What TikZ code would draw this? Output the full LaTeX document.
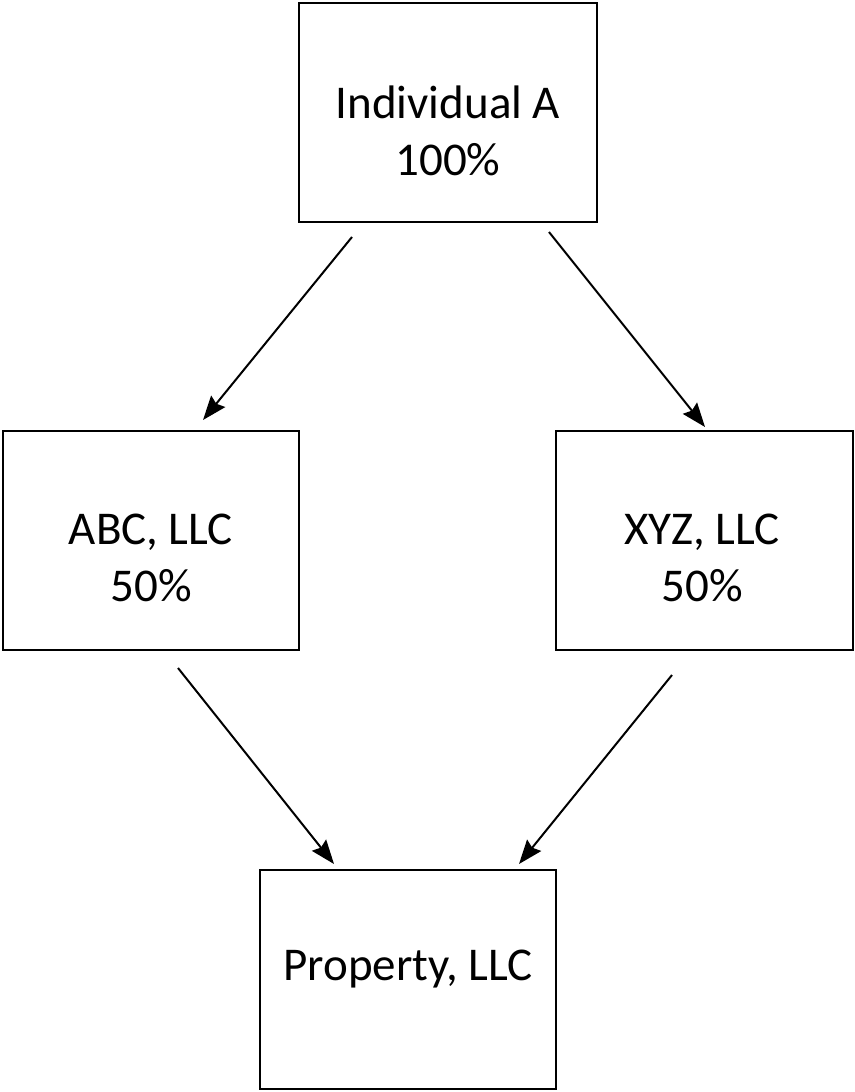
\documentclass[tikz,border=0pt]{standalone}
\usepackage{fontspec}
\setmainfont{Carlito}
\usetikzlibrary{arrows.meta}
\begin{document}
\begin{tikzpicture}[x=1pt,y=-1pt,
  box/.style={draw=black,line width=2pt,minimum width=#1,minimum height=219pt,inner sep=0pt,outer sep=0pt},
  lbl/.style={align=center,font=\fontsize{47}{57}\selectfont,inner sep=0pt},
  conn/.style={line width=2pt,-{Stealth[length=24pt,width=18pt,inset=3pt]}}]
\useasboundingbox (0,0) rectangle (854,1092);
\node[box=298pt] (ind) at (448,112.5) {};
\node[box=296pt] (abc) at (151,540) {};
\node[box=297pt] (xyz) at (704.5,540) {};
\node[box=296pt] (prop) at (408,979.5) {};
\node[lbl] (tind) at (448,131) {Individual A\\100\%};
\node[lbl] (tabc) at (151,558) {ABC, LLC\\50\%};
\node[lbl] (txyz) at (702,558) {XYZ, LLC\\50\%};
\node[lbl] (tprop) at (408,969) {Property, LLC};
\coordinate (s1) at (352,237);
\coordinate (e1) at (203,420);
\coordinate (s2) at (549,232);
\coordinate (e2) at (705,427);
\coordinate (s3) at (178,668);
\coordinate (e3) at (334,864);
\coordinate (s4) at (672,675);
\coordinate (e4) at (519,864);
\draw[conn] (s1) -- (e1);
\draw[conn] (s2) -- (e2);
\draw[conn] (s3) -- (e3);
\draw[conn] (s4) -- (e4);
\end{tikzpicture}
\end{document}
